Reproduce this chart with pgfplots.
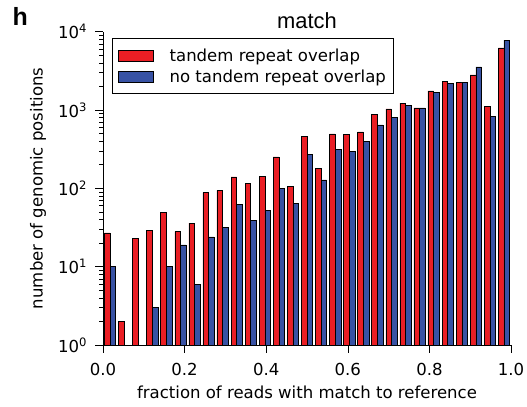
\documentclass[border=0pt]{standalone}
\usepackage{pgfplots}
\pgfplotsset{compat=1.18}
\usepackage{fontspec}
\setmainfont{DejaVu Sans}
\newfontfamily\titlefont{Liberation Sans}
\definecolor{tr}{RGB}{234,30,36}
\definecolor{ntr}{RGB}{56,82,164}
\begin{document}
\begin{tikzpicture}
\useasboundingbox (0,0) rectangle (527bp,407bp);
\node[anchor=base west, font=\titlefont\fontsize{25}{27}\selectfont\bfseries, inner sep=0] at (12.5bp,381bp) {h};
\begin{axis}[
  at={(103bp,62bp)}, anchor=south west,
  scale only axis, width=408bp, height=313.3bp,
  xmin=0, xmax=1, ymin=1, ymax=10000, ymode=log,
  axis x line*=bottom, axis y line*=left,
  axis line style={line width=0.8bp, -},
  tick align=outside, major tick length=8bp, minor tick length=4bp,
  tick style={black, line width=0.6bp},
  xtick={0,0.2,0.4,0.6,0.8,1}, xticklabels={0.0,0.2,0.4,0.6,0.8,1.0},
  ytick={1,10,100,1000,10000},
  minor ytick={2,3,...,9,20,30,...,90,200,300,...,900,2000,3000,...,9000},
  yticklabels={10\textsuperscript{0},10\textsuperscript{1},10\textsuperscript{2},10\textsuperscript{3},10\textsuperscript{4}},
  tick label style={font=\fontsize{16.6}{19}\selectfont},
  yticklabel style={xshift=-4.5bp},
  xticklabel style={yshift=-6.5bp},
  xlabel={fraction of reads with match to reference},
  ylabel={number of genomic positions},
  label style={font=\fontsize{16.6}{19}\selectfont},
  xlabel style={at={(axis description cs:0.5,0)}, anchor=base, yshift=-53.5bp},
  ylabel style={at={(axis description cs:-0.148,0.5)}, anchor=base, rotate=0},
  title={\titlefont match},
  title style={font=\fontsize{22}{24}\selectfont, at={(axis description cs:0.5,1)}, anchor=base, yshift=-2.5bp},
  legend style={at={(axis description cs:0.0213,0.979)}, anchor=north west, draw=black, line width=0.8bp,
    font=\fontsize{16.6}{19}\selectfont, inner xsep=6bp, inner ysep=8bp, row sep=3bp,
    cells={text height=12.6bp, text depth=4bp, inner ysep=3.2bp}},
  legend cell align=left,
  legend image code/.code={\draw[#1, line width=0.6bp] (0bp,-5.5bp) rectangle (35bp,5.5bp); \path (49bp,0bp);},
]
\addplot[ybar, bar width=0.013793, bar shift=0pt, fill=tr, draw=black, line width=0.5bp] coordinates {
(0.01034,27) (0.04483,2) (0.07931,23) (0.11379,29) (0.14828,49) (0.18276,28) (0.21724,36)
(0.25172,88) (0.28621,94) (0.32069,140) (0.35517,117) (0.38966,143) (0.42414,252) (0.45862,105)
(0.49310,457) (0.52759,180) (0.56207,495) (0.59655,491) (0.63103,525) (0.66552,884) (0.70000,1033)
(0.73448,1222) (0.76897,1064) (0.80345,1754) (0.83793,2306) (0.87241,2265) (0.90690,2807)
(0.94138,1105) (0.97586,6210)
};
\addlegendentry{tandem repeat overlap}
\addplot[ybar, bar width=0.013793, bar shift=0pt, fill=ntr, draw=black, line width=0.5bp] coordinates {
(0.02414,10) (0.12759,3) (0.16207,10) (0.19655,19) (0.23103,6)
(0.26552,24) (0.30000,32) (0.33448,62) (0.36897,39) (0.40345,52) (0.43793,99) (0.47241,65)
(0.50690,272) (0.54138,128) (0.57586,316) (0.61034,298) (0.64483,395) (0.67931,645) (0.71379,800)
(0.74828,1138) (0.78276,1064) (0.81724,1687) (0.85172,2198) (0.88621,2265) (0.92069,3550)
(0.95517,834) (0.98966,7784)
};
\addlegendentry{no tandem repeat overlap}
\end{axis}
\end{tikzpicture}
\end{document}
